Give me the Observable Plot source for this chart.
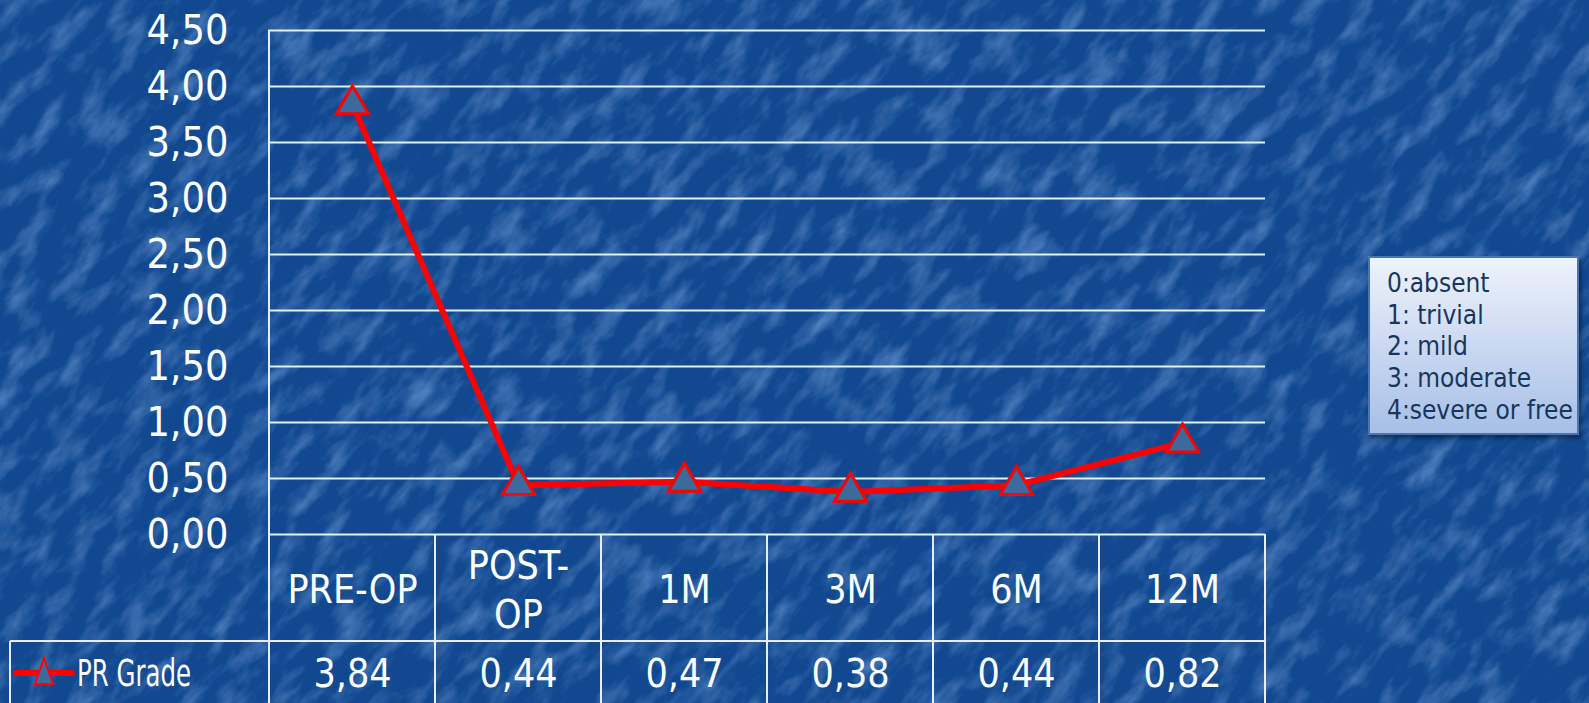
<!DOCTYPE html>
<html>
<head>
<meta charset="utf-8">
<script src="https://cdn.jsdelivr.net/npm/d3@7"></script>
<script src="https://cdn.jsdelivr.net/npm/@observablehq/plot@0.6"></script>
<style>
  html, body { margin: 0; padding: 0; }
  body {
    width: 1589px; height: 703px; overflow: hidden; position: relative;
    background: #11488f;
    font-family: "DejaVu Sans Condensed", "DejaVu Sans", sans-serif;
    font-stretch: condensed;
  }
  #texture { position: absolute; left: 0; top: 0; }
  #chart { position: absolute; left: 0; top: 0; }
  #key {
    position: absolute; left: 1368px; top: 256px; width: 211px; height: 179px;
    box-sizing: border-box;
    background: linear-gradient(#eef3fb, #a7bfe6);
    border: 2px solid #4f74ad;
    box-shadow: 2px 3px 4px rgba(0,0,0,0.45);
    color: #17365d; font-size: 26px; line-height: 31.7px;
    padding: 10px 0 0 17px;
    font-family: "DejaVu Sans Condensed", "DejaVu Sans", sans-serif;
    font-stretch: condensed;
    white-space: nowrap;
  }
</style>
</head>
<body>
<svg id="texture" width="1589" height="703">
  <defs>
    <filter id="marble" x="0" y="0" width="100%" height="100%">
      <feTurbulence type="fractalNoise" baseFrequency="0.022 0.05" numOctaves="4" seed="11"/>
      <feColorMatrix type="matrix" values="0 0 0 0 0.3  0 0 0 0 0.52  0 0 0 0 0.88  1.0 0 0 0 -0.45"/>
    </filter>
  </defs>
  <g transform="rotate(-50 795 350)">
    <rect x="-700" y="-900" width="3000" height="2500" filter="url(#marble)"/>
  </g>
</svg>
<div id="chart"></div>
<div id="key"></div>
<script>
// Follow-up time points and the mean PR grade at each
const categories = ["PRE-OP", "POST-OP", "1M", "3M", "6M", "12M"];
const categoryLabels = ["PRE-OP", "POST-\nOP", "1M", "3M", "6M", "12M"];
const prGrade = [3.84, 0.44, 0.47, 0.38, 0.44, 0.82];
const seriesName = "PR Grade";
const yTicks = [0, 0.5, 1, 1.5, 2, 2.5, 3, 3.5, 4, 4.5];
const gradeKey = ["0:absent", "1: trivial", "2: mild", "3: moderate", "4:severe or free"];

const fmt = v => v.toFixed(2).replace(".", ",");
const data = categories.map((c, i) => ({cat: c, label: categoryLabels[i], v: prGrade[i]}));

const W = 1589, H = 703;
const font = "'DejaVu Sans Condensed', 'DejaVu Sans', sans-serif";
const lineColor = "#ff0000";
const gridColor = "#e6edf7";

const plot = Plot.plot({
  width: W, height: H,
  marginLeft: 268, marginRight: 324, marginTop: 30, marginBottom: 169,
  style: {background: "transparent", color: "white", fontFamily: font, overflow: "visible"},
  x: {type: "band", domain: categories, padding: 0, axis: null},
  y: {domain: [0, 4.5], axis: null},
  marks: [
    Plot.ruleY(yTicks, {stroke: gridColor, strokeWidth: 2}),
    Plot.axisY({ticks: yTicks, tickFormat: fmt, tickSize: 0, tickPadding: 40,
      fontSize: 41, label: null, fill: "white"}),
    Plot.line(data, {x: "cat", y: "v", stroke: lineColor, strokeWidth: 6}),
    Plot.dot(data, {x: "cat", y: "v", symbol: "triangle", r: 12,
      fill: "#3d6a9c", stroke: lineColor, strokeWidth: 3}),
    // table: category row and value row under the plot frame
    Plot.text(data, {x: "cat", text: "label", frameAnchor: "bottom", lineAnchor: "middle",
      dy: 53, fontSize: 39, lineHeight: 1.28, fill: "white"}),
    Plot.text(data, {x: "cat", text: d => fmt(d.v), frameAnchor: "bottom", lineAnchor: "middle",
      dy: 140, fontSize: 39, fill: "white"})
  ]
});
document.getElementById("chart").append(plot);

// table grid drawn from the x scale's band edges
const x = plot.scale("x");
const edges = categories.map(c => x.apply(c));
edges.push(x.apply(categories[categories.length - 1]) + x.bandwidth);
const y = plot.scale("y");
const y0 = y.apply(0), yTop = y.apply(4.5);
const rowSplit = y0 + 107;
const legendLeft = 10;

const g = d3.select(plot).append("g")
  .attr("stroke", gridColor).attr("stroke-width", 2).attr("fill", "none");
// left frame edge, running down through the table
g.append("line").attr("x1", edges[0]).attr("x2", edges[0]).attr("y1", yTop).attr("y2", H);
edges.slice(1).forEach(e => g.append("line").attr("x1", e).attr("x2", e).attr("y1", y0).attr("y2", H));
g.append("line").attr("x1", legendLeft).attr("x2", edges[edges.length - 1]).attr("y1", rowSplit).attr("y2", rowSplit);
g.append("line").attr("x1", legendLeft).attr("x2", legendLeft).attr("y1", rowSplit).attr("y2", H);

// series swatch in the value row
const rowMid = (rowSplit + H) / 2 + 1;
const sw = d3.select(plot).append("g");
sw.append("line").attr("x1", 16).attr("x2", 72).attr("y1", rowMid).attr("y2", rowMid)
  .attr("stroke", lineColor).attr("stroke-width", 6).attr("stroke-linecap", "round");
sw.append("path").attr("d", "M44,658 L53,684 L35,684 Z")
  .attr("fill", "#3d6a9c").attr("stroke", lineColor).attr("stroke-width", 2);
sw.append("text").attr("x", 77).attr("y", rowMid).attr("dy", "0.35em")
  .attr("text-anchor", "start")
  .attr("textLength", 114).attr("lengthAdjust", "spacingAndGlyphs")
  .attr("fill", "white").attr("font-size", 37).attr("font-family", font)
  .text(seriesName);

// grade key
const key = d3.select("#key");
gradeKey.forEach(t => key.append("div").text(t));
</script>
</body>
</html>
